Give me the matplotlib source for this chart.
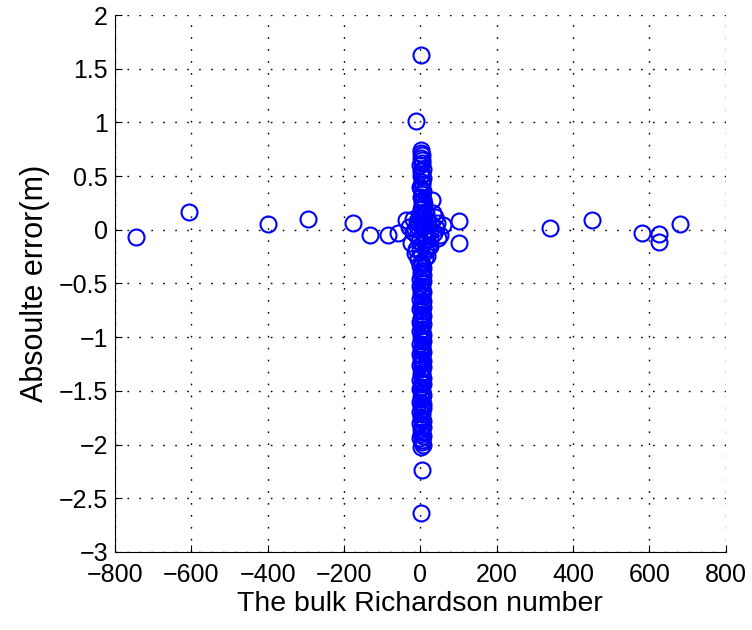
import matplotlib
matplotlib.use('Agg')
import matplotlib.pyplot as plt

# Far-off points (bulk Richardson number, absolute error)
ri_outer = [-744, -607, -400, -295, -177, -132, -84, -58, -38,
            102, 100, 340, 451, 581, 626, 626, 679]
err_outer = [-0.066, 0.167, 0.055, 0.10, 0.064, -0.048, -0.047, -0.025, 0.09,
             0.086, -0.125, 0.015, 0.092, -0.032, -0.038, -0.116, 0.055]

# Isolated points on the column
ri_single = [1, -12, 2, 3, 1]
err_single = [1.63, 1.01, 0.745, -2.24, -2.64]

# Points near zero error, spread a little in Ri
ri_near = [58, 47, 30, 33, 40, 25, -20, 22, -25, 18, -15, 12, 20, -10, 15,
           -8, 10, -12, 14, 8, -6, 6, 28, 35, -30, 44, 52, -18, 38, 17,
           -4, 11, 24, -14, 5, 19, -9, 13, 0, 26]
err_near = [0.045, -0.078, 0.28, 0.16, 0.02, -0.15, -0.02, -0.14, -0.12, -0.08,
            0.01, 0.00, 0.07, 0.04, 0.16, -0.06, 0.12, -0.18, -0.20, 0.27,
            -0.27, 0.20, 0.05, -0.03, 0.03, 0.06, -0.05, 0.10, 0.12, -0.24,
            -0.10, -0.04, -0.09, -0.22, -0.13, -0.17, 0.08, -0.26, -0.19, -0.01]

# Upper part of the column
ri_up = [2, 4, 1, 5, 3, 0, 6, 2, 4, 1, 7, 3, 5, 0, 2, 8, 4, 1, 6, 3,
         10, 5, 2, 12, 0, 7, 15, 4, -5, 9, 3]
err_up = [0.72, 0.70, 0.67, 0.65, 0.62, 0.60, 0.57, 0.55, 0.52, 0.50,
          0.48, 0.45, 0.43, 0.40, 0.38, 0.36, 0.33, 0.31, 0.29, 0.26,
          0.24, 0.22, 0.19, 0.17, 0.15, 0.12, 0.10, 0.08, 0.06, 0.04, 0.02]

# Lower part of the column
ri_low = [2, 5, 0, 7, 3, 1, 6, 4, -2, 8, 3, 0, 5, 2, 7, 1, 4, -1, 6, 3,
          2, 8, 0, 5, 3, 6, 1, 4, -2, 7, 2, 5, 0, 3, 8, 1, 4, 6, -1, 3,
          5, 2, 7, 0, 4, 1, 6, 3, -2, 8, 2, 5, 1, 4, 7, 0, 3, 6, 2, -1,
          5, 3, 8, 1, 4, 0, 6, 2, 7, 3, -1, 5, 2, 4, 8, 0, 3, 6, 1, 5,
          2, 7, 0, 4, 3, 6, 1]
err_low = [-0.30, -0.32, -0.34, -0.36, -0.38, -0.40, -0.42, -0.44, -0.46, -0.48,
           -0.50, -0.52, -0.54, -0.56, -0.58, -0.60, -0.62, -0.64, -0.66, -0.68,
           -0.70, -0.72, -0.74, -0.76, -0.78, -0.80, -0.82, -0.84, -0.86, -0.88,
           -0.90, -0.92, -0.94, -0.96, -0.98, -1.00, -1.02, -1.04, -1.06, -1.08,
           -1.10, -1.12, -1.14, -1.16, -1.18, -1.20, -1.22, -1.24, -1.26, -1.28,
           -1.30, -1.32, -1.34, -1.36, -1.38, -1.40, -1.42, -1.44, -1.46, -1.48,
           -1.50, -1.52, -1.54, -1.56, -1.58, -1.60, -1.62, -1.64, -1.66, -1.68,
           -1.70, -1.72, -1.74, -1.76, -1.78, -1.80, -1.82, -1.84, -1.86, -1.88,
           -1.90, -1.92, -1.94, -1.96, -1.98, -2.00, -2.02]

xticks = [-800, -600, -400, -200, 0, 200, 400, 600, 800]
xticklabels = ['\u2212800', '\u2212600', '\u2212400', '\u2212200', '0',
               '200', '400', '600', '800']
yticks = [-3, -2.5, -2, -1.5, -1, -0.5, 0, 0.5, 1, 1.5, 2]
yticklabels = ['\u22123', '\u22122.5', '\u22122', '\u22121.5', '\u22121',
               '\u22120.5', '0', '0.5', '1', '1.5', '2']

plt.rcParams['font.family'] = ['Liberation Sans', 'DejaVu Sans']

fig = plt.figure(figsize=(7.52, 6.30), dpi=100)
ax = fig.add_axes([0.153, 0.124, 0.812, 0.852])

groups = [(ri_outer, err_outer), (ri_single, err_single), (ri_near, err_near),
          (ri_up, err_up), (ri_low, err_low)]
for xs, ys in groups:
    ax.plot(xs, ys, 'o', markersize=11.5, markerfacecolor='none',
            markeredgecolor='#0000ff', markeredgewidth=1.5, zorder=3)

ax.set_xlim(-800, 800)
ax.set_ylim(-3, 2)
ax.set_xticks(xticks)
ax.set_xticklabels(xticklabels)
ax.set_yticks(yticks)
ax.set_yticklabels(yticklabels)
ax.tick_params(direction='in', length=5, labelsize=18, colors='black')
ax.tick_params(axis='x', pad=8)
ax.tick_params(axis='y', pad=5)
ax.spines['top'].set_visible(False)
ax.spines['right'].set_visible(False)
ax.grid(True, color='black', linestyle=(0, (1.2, 7.4)), linewidth=1.0)
ax.set_axisbelow(True)

ax.set_xlabel('The bulk Richardson number', fontsize=20.5, labelpad=3)
ax.set_ylabel('Absoulte error(m)', fontsize=22, labelpad=6)

fig.savefig('out.png', dpi=100)
